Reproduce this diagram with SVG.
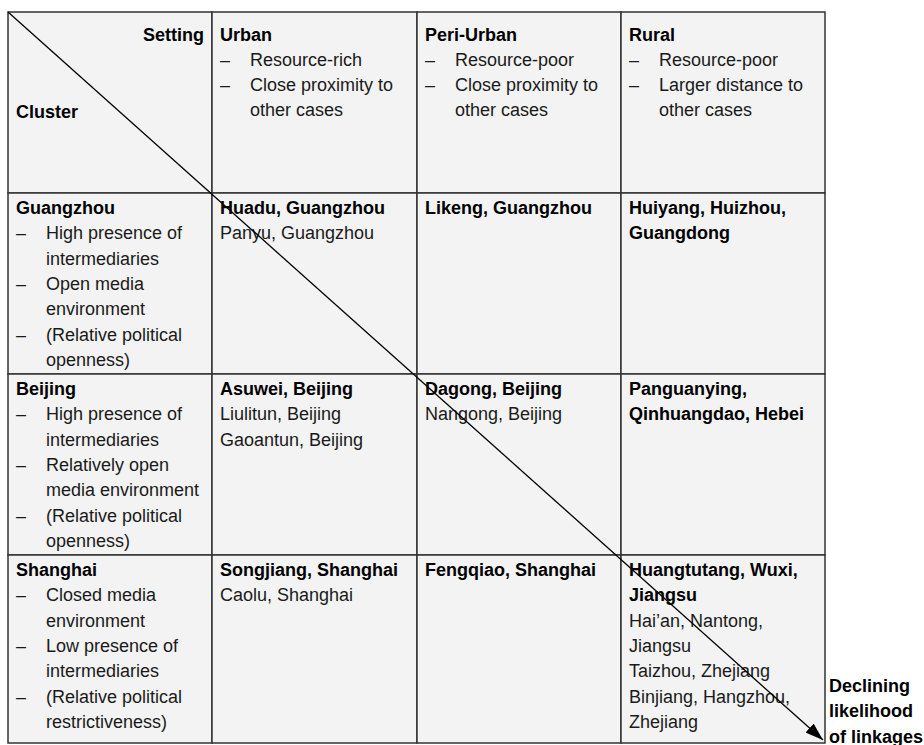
<svg xmlns="http://www.w3.org/2000/svg" width="924" height="745" viewBox="0 0 924 745">
  <style>
    .cell { fill: #f3f3f3; stroke: #333333; stroke-width: 1.5; }
    text { font-family: "Liberation Sans", Arial, sans-serif; font-size: 18px; fill: #1a1a1a; }
    .b { font-weight: bold; fill: #000000; }
    .conn { stroke: #000000; stroke-width: 1.3; fill: none; }
  </style>
  <defs>
    <marker id="arrowhead" viewBox="0 0 18 12" refX="18" refY="6" markerWidth="18" markerHeight="12" markerUnits="userSpaceOnUse" orient="auto">
      <path d="M0,0 L18,6 L0,12 Z" fill="#000000"/>
    </marker>
  </defs>
  <rect width="924" height="745" fill="#ffffff"/>

  <!-- header row -->
  <g id="corner">
    <rect class="cell" x="8" y="12" width="204" height="181"/>
    <text class="b" x="204" y="41" text-anchor="end">Setting</text>
    <text class="b" x="16" y="118">Cluster</text>
  </g>
  <g id="urban">
    <rect class="cell" x="212" y="12" width="205" height="181"/>
    <text class="b" x="220" y="41">Urban</text>
    <text x="220" y="66">–</text><text x="250" y="66">Resource-rich</text>
    <text x="220" y="91">–</text><text x="250" y="91">Close proximity to</text>
    <text x="250" y="116">other cases</text>
  </g>
  <g id="peri-urban">
    <rect class="cell" x="417" y="12" width="204" height="181"/>
    <text class="b" x="425" y="41">Peri-Urban</text>
    <text x="425" y="66">–</text><text x="455" y="66">Resource-poor</text>
    <text x="425" y="91">–</text><text x="455" y="91">Close proximity to</text>
    <text x="455" y="116">other cases</text>
  </g>
  <g id="rural">
    <rect class="cell" x="621" y="12" width="204" height="181"/>
    <text class="b" x="629" y="41">Rural</text>
    <text x="629" y="66">–</text><text x="659" y="66">Resource-poor</text>
    <text x="629" y="91">–</text><text x="659" y="91">Larger distance to</text>
    <text x="659" y="116">other cases</text>
  </g>

  <!-- Guangzhou row -->
  <g id="guangzhou">
    <rect class="cell" x="8" y="193" width="204" height="181"/>
    <text class="b" x="16" y="214">Guangzhou</text>
    <text x="16" y="239.3">–</text><text x="46" y="239.3">High presence of</text>
    <text x="46" y="264.6">intermediaries</text>
    <text x="16" y="289.9">–</text><text x="46" y="289.9">Open media</text>
    <text x="46" y="315.2">environment</text>
    <text x="16" y="340.5">–</text><text x="46" y="340.5">(Relative political</text>
    <text x="46" y="365.8">openness)</text>
  </g>
  <g id="huadu">
    <rect class="cell" x="212" y="193" width="205" height="181"/>
    <text class="b" x="220" y="214">Huadu, Guangzhou</text>
    <text x="220" y="239.3">Panyu, Guangzhou</text>
  </g>
  <g id="likeng">
    <rect class="cell" x="417" y="193" width="204" height="181"/>
    <text class="b" x="425" y="214">Likeng, Guangzhou</text>
  </g>
  <g id="huiyang">
    <rect class="cell" x="621" y="193" width="204" height="181"/>
    <text class="b" x="629" y="214">Huiyang, Huizhou,</text>
    <text class="b" x="629" y="239.3">Guangdong</text>
  </g>

  <!-- Beijing row -->
  <g id="beijing">
    <rect class="cell" x="8" y="374" width="204" height="181"/>
    <text class="b" x="16" y="395">Beijing</text>
    <text x="16" y="420.3">–</text><text x="46" y="420.3">High presence of</text>
    <text x="46" y="445.6">intermediaries</text>
    <text x="16" y="470.9">–</text><text x="46" y="470.9">Relatively open</text>
    <text x="46" y="496.2">media environment</text>
    <text x="16" y="521.5">–</text><text x="46" y="521.5">(Relative political</text>
    <text x="46" y="546.8">openness)</text>
  </g>
  <g id="asuwei">
    <rect class="cell" x="212" y="374" width="205" height="181"/>
    <text class="b" x="220" y="395">Asuwei, Beijing</text>
    <text x="220" y="420.3">Liulitun, Beijing</text>
    <text x="220" y="445.6">Gaoantun, Beijing</text>
  </g>
  <g id="dagong">
    <rect class="cell" x="417" y="374" width="204" height="181"/>
    <text class="b" x="425" y="395">Dagong, Beijing</text>
    <text x="425" y="420.3">Nangong, Beijing</text>
  </g>
  <g id="panguanying">
    <rect class="cell" x="621" y="374" width="204" height="181"/>
    <text class="b" x="629" y="395">Panguanying,</text>
    <text class="b" x="629" y="420.3">Qinhuangdao, Hebei</text>
  </g>

  <!-- Shanghai row -->
  <g id="shanghai">
    <rect class="cell" x="8" y="555" width="204" height="188"/>
    <text class="b" x="16" y="576">Shanghai</text>
    <text x="16" y="601.3">–</text><text x="46" y="601.3">Closed media</text>
    <text x="46" y="626.6">environment</text>
    <text x="16" y="651.9">–</text><text x="46" y="651.9">Low presence of</text>
    <text x="46" y="677.2">intermediaries</text>
    <text x="16" y="702.5">–</text><text x="46" y="702.5">(Relative political</text>
    <text x="46" y="727.8">restrictiveness)</text>
  </g>
  <g id="songjiang">
    <rect class="cell" x="212" y="555" width="205" height="188"/>
    <text class="b" x="220" y="576">Songjiang, Shanghai</text>
    <text x="220" y="601.3">Caolu, Shanghai</text>
  </g>
  <g id="fengqiao">
    <rect class="cell" x="417" y="555" width="204" height="188"/>
    <text class="b" x="425" y="576">Fengqiao, Shanghai</text>
  </g>
  <g id="huangtutang">
    <rect class="cell" x="621" y="555" width="204" height="188"/>
    <text class="b" x="629" y="576">Huangtutang, Wuxi,</text>
    <text class="b" x="629" y="601.3">Jiangsu</text>
    <text x="629" y="626.6">Hai’an, Nantong,</text>
    <text x="629" y="651.9">Jiangsu</text>
    <text x="629" y="677.2">Taizhou, Zhejiang</text>
    <text x="629" y="702.5">Binjiang, Hangzhou,</text>
    <text x="629" y="727.8">Zhejiang</text>
  </g>

  <!-- diagonal trend arrow -->
  <g id="connectors">
    <line class="conn" x1="8" y1="12" x2="823" y2="740" marker-end="url(#arrowhead)"/>
  </g>

  <g id="trend-label">
    <text class="b" x="829" y="692">Declining</text>
    <text class="b" x="829" y="717.3">likelihood</text>
    <text class="b" x="829" y="742.6">of linkages</text>
  </g>
</svg>
